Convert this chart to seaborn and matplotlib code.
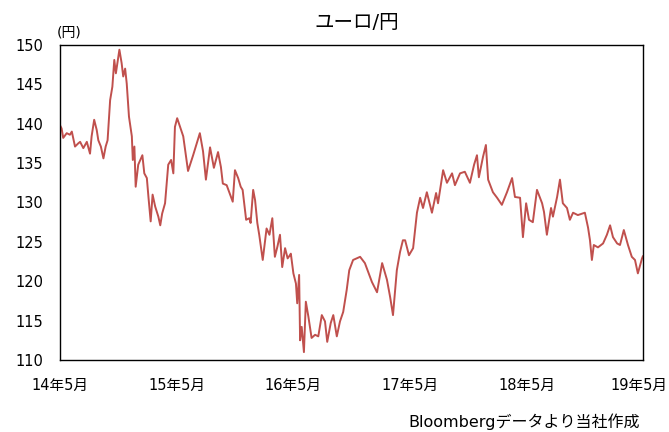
import matplotlib
matplotlib.use("Agg")
import matplotlib.pyplot as plt
import matplotlib.transforms as mtransforms
import seaborn as sns
import pandas as pd

# ユーロ/円 の推移（チャートから読み取った値）
dates = [
    "2014-05-01", "2014-05-06", "2014-05-11", "2014-05-22", "2014-06-01", "2014-06-07",
    "2014-06-17", "2014-06-27", "2014-07-03", "2014-07-13", "2014-07-24", "2014-08-03",
    "2014-08-08", "2014-08-16", "2014-08-24", "2014-08-29", "2014-09-06", "2014-09-14",
    "2014-09-21", "2014-09-27", "2014-10-05", "2014-10-12", "2014-10-18", "2014-10-23",
    "2014-11-03", "2014-11-10", "2014-11-15", "2014-11-21", "2014-11-26", "2014-12-03",
    "2014-12-12", "2014-12-15", "2014-12-20", "2014-12-24", "2015-01-01", "2015-01-14",
    "2015-01-20", "2015-01-28", "2015-02-02", "2015-02-09", "2015-02-15", "2015-02-23",
    "2015-03-05", "2015-03-11", "2015-03-17", "2015-03-26", "2015-04-05", "2015-04-14",
    "2015-04-21", "2015-04-26", "2015-05-03", "2015-05-12", "2015-05-22", "2015-06-06",
    "2015-06-22", "2015-07-13", "2015-07-23", "2015-08-01", "2015-08-14", "2015-08-26",
    "2015-09-08", "2015-09-17", "2015-09-23", "2015-10-05", "2015-10-24", "2015-10-31",
    "2015-11-10", "2015-11-18", "2015-11-24", "2015-12-05", "2015-12-15", "2015-12-19",
    "2015-12-27", "2016-01-02", "2016-01-09", "2016-01-15", "2016-01-26", "2016-02-02",
    "2016-02-07", "2016-02-16", "2016-02-25", "2016-03-04", "2016-03-12", "2016-03-20",
    "2016-03-27", "2016-04-05", "2016-04-13", "2016-04-20", "2016-04-23", "2016-05-01",
    "2016-05-09", "2016-05-13", "2016-05-19", "2016-05-22", "2016-05-27", "2016-06-03",
    "2016-06-09", "2016-06-17", "2016-06-27", "2016-07-08", "2016-07-18", "2016-07-29",
    "2016-08-08", "2016-08-15", "2016-08-26", "2016-09-03", "2016-09-14", "2016-09-24",
    "2016-10-04", "2016-10-15", "2016-10-23", "2016-11-04", "2016-11-26", "2016-12-11",
    "2017-01-02", "2017-01-18", "2017-02-03", "2017-02-18", "2017-02-28", "2017-03-09",
    "2017-03-21", "2017-03-31", "2017-04-09", "2017-04-16", "2017-04-28", "2017-05-11",
    "2017-05-23", "2017-06-02", "2017-06-11", "2017-06-23", "2017-07-09", "2017-07-22",
    "2017-07-28", "2017-08-13", "2017-08-25", "2017-09-10", "2017-09-19", "2017-10-05",
    "2017-10-20", "2017-11-05", "2017-11-18", "2017-11-27", "2017-12-03", "2017-12-16",
    "2017-12-25", "2018-01-01", "2018-01-16", "2018-01-29", "2018-02-13", "2018-03-01",
    "2018-03-17", "2018-03-26", "2018-04-11", "2018-04-20", "2018-04-30", "2018-05-09",
    "2018-05-21", "2018-06-03", "2018-06-19", "2018-06-25", "2018-07-04", "2018-07-17",
    "2018-07-23", "2018-08-05", "2018-08-14", "2018-08-23", "2018-09-05", "2018-09-14",
    "2018-09-24", "2018-10-09", "2018-10-31", "2018-11-10", "2018-11-16", "2018-11-22",
    "2018-11-28", "2018-12-11", "2018-12-27", "2019-01-08", "2019-01-18", "2019-01-27",
    "2019-02-09", "2019-02-18", "2019-03-02", "2019-03-15", "2019-03-27", "2019-04-06",
    "2019-04-15", "2019-04-28", "2019-05-01",
]
eurjpy = [
    139.8, 139.4, 138.2, 138.8, 138.6, 139.0,
    137.1, 137.5, 137.7, 136.9, 137.7, 136.2,
    138.4, 140.5, 139.2, 137.9, 137.1, 135.6,
    137.1, 137.9, 143.0, 144.7, 148.1, 146.4,
    149.4, 147.7, 146.0, 147.0, 145.1, 140.9,
    138.4, 135.4, 137.1, 132.0, 134.8, 136.0,
    133.7, 133.1, 130.7, 127.6, 131.0, 129.5,
    128.2, 127.1, 128.6, 129.9, 134.8, 135.4,
    133.7, 139.6, 140.7, 139.6, 138.4, 134.0,
    136.0, 138.8, 136.5, 132.9, 137.0, 134.4,
    136.4, 134.5, 132.4, 132.2, 130.1, 134.1,
    133.1, 132.0, 131.6, 127.8, 128.0, 127.4,
    131.6, 130.3, 127.4, 125.9, 122.7, 125.0,
    126.7, 125.9, 128.0, 123.1, 124.4, 125.9,
    121.8, 124.2, 122.9, 123.3, 123.5, 121.0,
    119.7, 117.2, 120.8, 112.5, 114.2, 111.0,
    117.4, 115.5, 112.8, 113.2, 113.0, 115.7,
    114.9, 112.3, 114.7, 115.7, 113.0, 114.9,
    116.1, 118.9, 121.4, 122.7, 123.1, 122.3,
    119.9, 118.6, 122.3, 120.2, 118.0, 115.7,
    121.4, 123.7, 125.2, 125.2, 123.3, 124.2,
    128.7, 130.6, 129.3, 131.3, 128.7, 131.2,
    129.9, 134.1, 132.5, 133.7, 132.2, 133.7,
    133.9, 132.5, 134.8, 136.0, 133.2, 135.8,
    137.3, 132.9, 131.3, 130.6, 129.7, 131.3,
    133.1, 130.7, 130.6, 125.6, 129.9, 127.8,
    127.5, 131.6, 129.9, 128.8, 125.9, 129.3,
    128.2, 130.7, 132.9, 129.9, 129.3, 127.8,
    128.7, 128.4, 128.7, 126.8, 125.2, 122.7,
    124.6, 124.3, 124.8, 125.9, 127.1, 125.6,
    124.8, 124.6, 126.5, 124.6, 123.1, 122.7,
    121.0, 122.9, 123.2,
]
tick_dates = ["2014-05-01", "2015-05-01", "2016-05-01", "2017-05-01", "2018-05-01", "2019-05-01"]
tick_labels = ["14年5月", "15年5月", "16年5月", "17年5月", "18年5月", "19年5月"]
y_ticks = [110, 115, 120, 125, 130, 135, 140, 145, 150]

df = pd.DataFrame({"date": pd.to_datetime(dates), "value": eurjpy})

sns.set_style("white")
plt.rcParams["font.family"] = ["DejaVu Sans", "Noto Sans CJK JP"]
plt.rcParams["text.color"] = "black"

fig = plt.figure(figsize=(6.69, 4.32), dpi=100)
ax = fig.add_axes([0.0897, 0.1667, 0.8714, 0.7292])

sns.lineplot(data=df, x="date", y="value", ax=ax, color="#C0504D", linewidth=1.4)

ax.set_xlim(pd.Timestamp(tick_dates[0]), pd.Timestamp(tick_dates[-1]))
ax.set_ylim(110, 150)
ax.set_yticks(y_ticks)
ax.set_xticks(pd.to_datetime(tick_dates))
ax.set_xticklabels(tick_labels)
ax.tick_params(axis="both", length=0, labelsize=10.5, colors="black")
ax.tick_params(axis="y", pad=12)
ax.tick_params(axis="x", pad=13)
ax.set_xlabel("")
ax.set_ylabel("")
for sp in ax.spines.values():
    sp.set_color("black")
    sp.set_linewidth(1.0)

# 右端のラベルが切れないよう少し左へ
last = ax.get_xticklabels()[-1]
last.set_transform(last.get_transform() + mtransforms.ScaledTranslation(-4 / 100, 0, fig.dpi_scale_trans))

fig.text(357 / 669, 1 - 22 / 432, "ユーロ/円", ha="center", va="center", fontsize=14)
fig.text(57 / 669, 1 - 33 / 432, "(円)", ha="left", va="center", fontsize=10)
fig.text(640 / 669, 1 - 422 / 432, "Bloombergデータより当社作成", ha="right", va="center", fontsize=11.5)

fig.savefig("out.png", dpi=100)
